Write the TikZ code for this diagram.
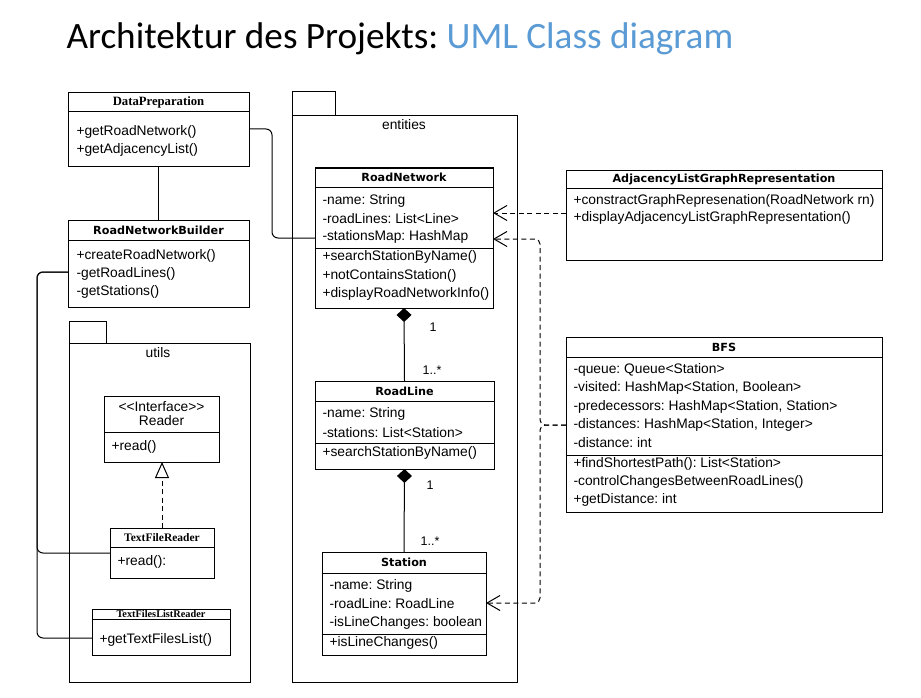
\documentclass[tikz,border=0pt]{standalone}
\usepackage{fontspec}
\setmainfont{Liberation Sans}
\newfontfamily\titlefont{Carlito}
\newfontfamily\verd{DejaVu Sans}
\newfontfamily\tms{Liberation Serif}
\usetikzlibrary{arrows.meta}
\definecolor{titleblue}{HTML}{5B9BD5}
\frenchspacing
\begin{document}
\begin{tikzpicture}[x=1pt,y=-1pt,line width=1pt,
  box/.style={draw,anchor=north west,inner sep=0pt,outer sep=0pt},
  mem/.style={anchor=west,inner sep=0pt,font=\fontsize{13.8}{13.8}\selectfont},
  cname/.style={inner sep=0pt,font=\verd\bfseries\fontsize{11.2}{11.2}\selectfont},
  sname/.style={inner sep=0pt,font=\tms\bfseries\fontsize{12.7}{12.7}\selectfont},
  pkgname/.style={inner sep=0pt,font=\fontsize{13.8}{13.8}\selectfont},
  mult/.style={inner sep=0pt,font=\fontsize{12.5}{12.5}\selectfont},
  dashline/.style={dash pattern=on 5pt off 3.5pt},
  dep/.style={dashline,-{Straight Barb[length=13pt,width=15pt]}},
  comp/.style={-{Diamond[length=14pt,width=15pt]}},
  real/.style={dashline,-{Triangle[open,length=16pt,width=14pt,fill=white]}}]
\fill[white] (0,0) rectangle (921,698);
\useasboundingbox (0,0) rectangle (921,698);

% title
\node[anchor=base west,inner sep=0pt,font=\titlefont\fontsize{37.2}{37.2}\selectfont] (title) at (66,49)
  {Architektur des Projekts: \textcolor{titleblue}{UML Class diagram}};

% ---------- DataPreparation ----------
\node[box,minimum width=181pt,minimum height=74pt] (dp) at (68,93) {};
\draw (68,112) -- (249,112);
\node[sname] (dpn) at (158.5,102.5) {DataPreparation};
\node[mem] (dp1) at (76,132) {+getRoadNetwork()};
\node[mem] (dp2) at (76,150) {+getAdjacencyList()};

% ---------- RoadNetworkBuilder ----------
\node[box,minimum width=181pt,minimum height=87pt] (rnb) at (68,220) {};
\draw (68,240) -- (249,240);
\node[cname] (rnbn) at (158.5,230) {RoadNetworkBuilder};
\node[mem] (rnb1) at (76,256) {+createRoadNetwork()};
\node[mem] (rnb2) at (76,274) {-getRoadLines()};
\node[mem] (rnb3) at (76,292) {-getStations()};

% ---------- package utils ----------
\draw (69,343) rectangle (250,682);
\draw (69,321) rectangle (106,343);
\node[pkgname] (utilsn) at (158,353) {utils};

\node[box,minimum width=115pt,minimum height=66pt] (reader) at (104,396) {};
\draw (104,432) -- (219,432);
\node[pkgname] (rd0) at (161.5,407) {<\kern0pt<Interface>\kern0pt>};
\node[pkgname] (rd1) at (161.5,421) {Reader};
\node[mem] (rd2) at (111,447) {+read()};

\node[box,minimum width=104pt,minimum height=50pt] (tfr) at (110,528) {};
\draw (110,547) -- (214,547);
\node[sname,font=\tms\bfseries\fontsize{11.5}{11.5}\selectfont] (tfrn) at (162,537.5) {TextFileReader};
\node[mem] (tfr1) at (117,562) {+read():};

\node[box,minimum width=138pt,minimum height=46pt] (tflr) at (92,609) {};
\draw (92,619) -- (230,619);
\node[sname,font=\tms\bfseries\fontsize{10.3}{10.3}\selectfont] (tflrn) at (161,614) {TextFilesListReader};
\node[mem] (tflr1) at (99,640) {+getTextFilesList()};

% ---------- package entities ----------
\draw (292,116) rectangle (517,682);
\draw (292,92) rectangle (335,116);
\node[pkgname] (entn) at (404,125) {entities};

\node[box,minimum width=178pt,minimum height=140pt] (rn) at (315,168) {};
\draw (315,187) -- (493,187);
\draw (315,248) -- (493,248);
\node[cname] (rnn) at (404,177.5) {RoadNetwork};
\node[mem] (rn1) at (322,201) {-name: String};
\node[mem] (rn2) at (322,219) {-roadLines: List<Line>};
\node[mem] (rn3) at (322,237) {-stationsMap: HashMap};
\node[mem] (rn4) at (322,257) {+searchStationByName()};
\node[mem] (rn5) at (322,276) {+notContainsStation()};
\node[mem] (rn6) at (322,294) {+displayRoadNetworkInfo()};

\node[box,minimum width=179pt,minimum height=88pt] (rl) at (315,381) {};
\draw (315,401) -- (494,401);
\draw (315,443) -- (494,443);
\node[cname] (rln) at (404.5,391) {RoadLine};
\node[mem] (rl1) at (322,414) {-name: String};
\node[mem] (rl2) at (322,433) {-stations: List<Station>};
\node[mem] (rl3) at (322,453) {+searchStationByName()};

\node[box,minimum width=164pt,minimum height=103pt] (st) at (322,552) {};
\draw (322,573) -- (486,573);
\draw (322,634) -- (486,634);
\node[cname] (stn) at (404,562.5) {Station};
\node[mem] (st1) at (329,586) {-name: String};
\node[mem] (st2) at (329,604) {-roadLine: RoadLine};
\node[mem] (st3) at (329,623) {-isLineChanges: boolean};
\node[mem] (st4) at (329,643) {+isLineChanges()};

% ---------- AdjacencyListGraphRepresentation ----------
\node[box,minimum width=316pt,minimum height=90pt] (adj) at (566,170) {};
\draw (566,188) -- (882,188);
\node[cname] (adjn) at (724,179) {AdjacencyListGraphRepresentation};
\node[mem] (adj1) at (573,201) {+constractGraphRepresenation(RoadNetwork rn)};
\node[mem] (adj2) at (573,218) {+displayAdjacencyListGraphRepresentation()};

% ---------- BFS ----------
\node[box,minimum width=316pt,minimum height=175pt] (bfs) at (566,337) {};
\draw (566,357) -- (882,357);
\draw (566,455) -- (882,455);
\node[cname] (bfsn) at (724,347) {BFS};
\node[mem] (bfs1) at (573,370) {-queue: Queue<Station>};
\node[mem] (bfs2) at (573,388) {-visited: HashMap<Station, Boolean>};
\node[mem] (bfs3) at (573,407) {-predecessors: HashMap<Station, Station>};
\node[mem] (bfs4) at (573,425) {-distances: HashMap<Station, Integer>};
\node[mem] (bfs5) at (573,443) {-distance: int};
\node[mem] (bfs6) at (573,464) {+findShortestPath(): List<Station>};
\node[mem] (bfs7) at (573,482) {-controlChangesBetweenRoadLines()};
\node[mem] (bfs8) at (573,500) {+getDistance: int};

% ---------- connectors ----------
\draw (dp.south) -- (rnb.north);
\draw[rounded corners=6pt] (dp.east |- 0,129) -- (272,129) -- (272,238) -- (rn.west |- 0,238);
\draw[rounded corners=6pt] (rnb.west |- 0,272) -- (37,272) -- (37,553) -- (tfr.west |- 0,553);
\draw[rounded corners=6pt] (rnb.west |- 0,272) -- (37,272) -- (37,638) -- (tflr.west |- 0,638);
\draw[real] (tfr.north) -- (tfr.north |- reader.south);

\draw[comp] (rl.north) -- (rn.south);
\node[mult] (m1) at (433,327) {1};
\node[mult] (m2) at (432,370) {1..*};
\draw[comp] (st.north) -- (rl.south);
\node[mult] (m3) at (430,485) {1};
\node[mult] (m4) at (430,541) {1..*};

\draw[dep] (adj.west |- 0,213) -- (rn.east |- 0,213);
\draw[dep,rounded corners=5pt] (bfs.west |- 0,425) -- (540,425) -- (540,239) -- (rn.east |- 0,239);
\draw[dep,rounded corners=5pt] (bfs.west |- 0,425) -- (540,425) -- (540,603) -- (st.east |- 0,603);
\end{tikzpicture}
\end{document}
